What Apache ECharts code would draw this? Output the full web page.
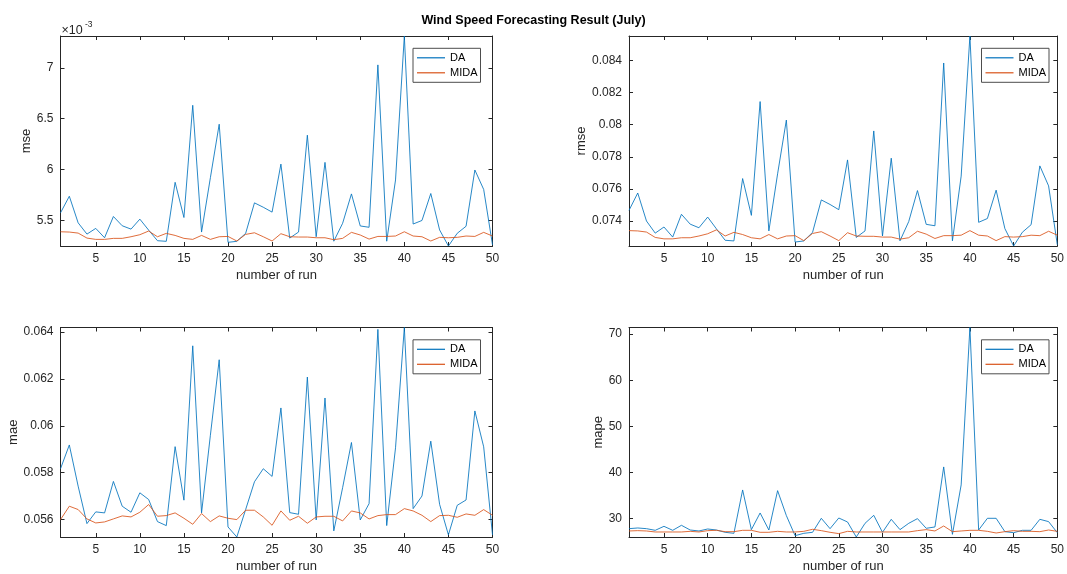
<!DOCTYPE html>
<html>
<head>
<meta charset="utf-8">
<title>Wind Speed Forecasting Result (July)</title>
<script src="https://cdn.jsdelivr.net/npm/echarts@6/dist/echarts.min.js"></script>
<style>
  html, body { margin: 0; padding: 0; background: #ffffff; }
  #chart { width: 1067px; height: 574px; }
</style>
</head>
<body>
<div id="chart"></div>
<script>
// Run index (x axis) and its tick marks
const runs = Array.from({ length: 50 }, (_, i) => i + 1);
const runTicks = [5, 10, 15, 20, 25, 30, 35, 40, 45, 50];

// Mean squared error per run
const mseDA = [
  0.005575, 0.005738, 0.005477, 0.005366, 0.005422, 0.005330, 0.005539, 0.005448, 0.005415, 0.005513,
  0.005405, 0.005301, 0.005295, 0.005875, 0.005529, 0.006632, 0.005386, 0.005920, 0.006446, 0.005285,
  0.005295, 0.005373, 0.005673, 0.005630, 0.005582, 0.006054, 0.005327, 0.005386, 0.006338, 0.005340,
  0.006071, 0.005296, 0.005472, 0.005761, 0.005446, 0.005433, 0.007029, 0.005296, 0.005898, 0.007313,
  0.005465, 0.005500, 0.005765, 0.005407, 0.005249, 0.005374, 0.005443, 0.005996, 0.005805, 0.005260
];
const mseMIDA = [
  0.005389, 0.005386, 0.005376, 0.005327, 0.005314, 0.005314, 0.005324, 0.005324, 0.005340, 0.005360,
  0.005396, 0.005340, 0.005373, 0.005353, 0.005324, 0.005314, 0.005353, 0.005314, 0.005340, 0.005343,
  0.005298, 0.005363, 0.005379, 0.005340, 0.005298, 0.005370, 0.005340, 0.005337, 0.005337, 0.005330,
  0.005330, 0.005311, 0.005324, 0.005383, 0.005357, 0.005317, 0.005343, 0.005343, 0.005347, 0.005389,
  0.005347, 0.005340, 0.005298, 0.005334, 0.005330, 0.005334, 0.005347, 0.005343, 0.005383, 0.005347
];
const mseTicks = [0.0055, 0.006, 0.0065, 0.007];

// Root mean squared error per run
const rmseDA = [
  0.074667, 0.075749, 0.074007, 0.073253, 0.073634, 0.073007, 0.074425, 0.073811, 0.073587, 0.074251,
  0.073520, 0.072808, 0.072767, 0.076648, 0.074358, 0.081438, 0.073390, 0.076942, 0.080287, 0.072698,
  0.072767, 0.073301, 0.075319, 0.075035, 0.074712, 0.077808, 0.072985, 0.073390, 0.079610, 0.073074,
  0.077915, 0.072773, 0.073972, 0.075901, 0.073799, 0.073710, 0.083838, 0.072773, 0.076800, 0.085517,
  0.073925, 0.074162, 0.075927, 0.073533, 0.072452, 0.073308, 0.073777, 0.077435, 0.076192, 0.072528
];
const rmseMIDA = [
  0.073409, 0.073390, 0.073320, 0.072985, 0.072897, 0.072897, 0.072966, 0.072966, 0.073074, 0.073213,
  0.073456, 0.073074, 0.073301, 0.073165, 0.072966, 0.072897, 0.073165, 0.072897, 0.073074, 0.073096,
  0.072786, 0.073232, 0.073342, 0.073074, 0.072786, 0.073279, 0.073074, 0.073055, 0.073055, 0.073007,
  0.073007, 0.072878, 0.072966, 0.073368, 0.073191, 0.072919, 0.073096, 0.073096, 0.073124, 0.073409,
  0.073124, 0.073074, 0.072786, 0.073036, 0.073007, 0.073036, 0.073124, 0.073096, 0.073368, 0.073124
];
const rmseTicks = [0.074, 0.076, 0.078, 0.08, 0.082, 0.084];

// Mean absolute error per run
const maeDA = [
  0.058171, 0.059186, 0.057429, 0.055829, 0.056329, 0.056286, 0.057629, 0.056571, 0.056314, 0.057143,
  0.056857, 0.055914, 0.055743, 0.059114, 0.056829, 0.063418, 0.056286, 0.059600, 0.062823, 0.055686,
  0.055257, 0.056429, 0.057614, 0.058171, 0.057843, 0.060766, 0.056298, 0.056227, 0.062085, 0.055986,
  0.061191, 0.055518, 0.057362, 0.059291, 0.055986, 0.056681, 0.064120, 0.055745, 0.059064, 0.064200,
  0.056468, 0.057007, 0.059348, 0.056652, 0.055348, 0.056610, 0.056837, 0.060638, 0.059106, 0.055348
];
const maeMIDA = [
  0.056000, 0.056571, 0.056429, 0.056029, 0.055857, 0.055900, 0.056029, 0.056157, 0.056114, 0.056314,
  0.056643, 0.056143, 0.056171, 0.056286, 0.056057, 0.055800, 0.056257, 0.055914, 0.056157, 0.056057,
  0.056000, 0.056400, 0.056400, 0.056114, 0.055757, 0.056371, 0.055972, 0.056142, 0.055844, 0.056113,
  0.056142, 0.056142, 0.055943, 0.056369, 0.056284, 0.056028, 0.056170, 0.056213, 0.056213, 0.056468,
  0.056369, 0.056184, 0.055915, 0.056170, 0.056184, 0.056099, 0.056241, 0.056184, 0.056426, 0.056184
];
const maeTicks = [0.056, 0.058, 0.06, 0.062, 0.064];

// Mean absolute percentage error per run
const mapeDA = [
  27.75, 27.90, 27.75, 27.39, 28.26, 27.39, 28.48, 27.46, 27.25, 27.68,
  27.46, 26.96, 26.74, 36.16, 27.54, 31.16, 27.46, 36.01, 30.60, 26.23,
  26.74, 26.96, 30.00, 27.75, 30.07, 29.20, 25.94, 28.91, 30.65, 26.96,
  29.78, 27.54, 28.91, 29.93, 27.83, 28.12, 41.16, 26.52, 37.25, 71.45,
  27.46, 30.00, 30.00, 27.10, 26.88, 27.39, 27.39, 29.78, 29.28, 26.88
];
const mapeMIDA = [
  27.25, 27.32, 27.25, 27.03, 27.03, 27.03, 27.03, 27.17, 27.03, 27.32,
  27.39, 27.10, 27.10, 27.39, 27.39, 26.96, 26.96, 27.17, 27.03, 27.03,
  27.17, 27.61, 27.32, 26.96, 26.67, 27.17, 27.03, 27.03, 27.03, 27.03,
  27.03, 27.03, 27.03, 27.32, 27.54, 27.25, 28.33, 27.10, 27.25, 27.39,
  27.39, 27.17, 26.81, 27.10, 27.32, 27.17, 27.17, 27.10, 27.46, 27.17
];
const mapeTicks = [30, 40, 50, 60, 70];

const seriesNames = ['DA', 'MIDA'];
const seriesColors = ['#0072BD', '#D95319'];

const FONT = "'Liberation Sans', Arial, Helvetica, sans-serif";
const INK = '#262626';

// Subplot layout: 2 x 2 axes boxes
const COLS = [60.5, 629];
const ROWS = [36, 327.5];
const BOX_W = 432;
const BOX_H = 210;

const panels = [
  { label: 'mse',  da: mseDA,  mida: mseMIDA,  ticks: mseTicks,  fmt: v => String(+(v * 1e3).toFixed(2)), col: 0, row: 0, nameGap: 27 },
  { label: 'rmse', da: rmseDA, mida: rmseMIDA, ticks: rmseTicks, fmt: v => String(+v.toFixed(3)),         col: 1, row: 0, nameGap: 40 },
  { label: 'mae',  da: maeDA,  mida: maeMIDA,  ticks: maeTicks,  fmt: v => String(+v.toFixed(3)),         col: 0, row: 1, nameGap: 40 },
  { label: 'mape', da: mapeDA, mida: mapeMIDA, ticks: mapeTicks, fmt: v => String(v),                     col: 1, row: 1, nameGap: 24 }
];

const grid = [], xAxis = [], yAxis = [], series = [], legend = [];

const tickStyle = { show: true, inside: true, length: 4, lineStyle: { color: INK, width: 1 } };
const lineStyle = { show: true, onZero: false, lineStyle: { color: INK, width: 1 } };

panels.forEach((p, i) => {
  const left = COLS[p.col], top = ROWS[p.row];
  const yMin = Math.min(...p.da, ...p.mida);
  const yMax = Math.max(...p.da, ...p.mida);

  grid.push({ left: left, top: top, width: BOX_W, height: BOX_H, containLabel: false });

  // bottom axis with labels, and a mirrored top axis for the box ticks
  xAxis.push({
    type: 'value', gridIndex: i, position: 'bottom', min: 1, max: 50,
    name: 'number of run', nameLocation: 'middle', nameGap: 23,
    nameTextStyle: { fontFamily: FONT, fontSize: 13, color: INK },
    axisLine: lineStyle,
    axisTick: Object.assign({ customValues: runTicks }, tickStyle),
    axisLabel: { customValues: runTicks, margin: 7, fontFamily: FONT, fontSize: 12, color: INK },
    splitLine: { show: false }
  });
  xAxis.push({
    type: 'value', gridIndex: i, position: 'top', min: 1, max: 50,
    axisLine: lineStyle,
    axisTick: Object.assign({ customValues: runTicks }, tickStyle),
    axisLabel: { show: false },
    splitLine: { show: false }
  });

  yAxis.push({
    type: 'value', gridIndex: i, position: 'left', min: yMin, max: yMax,
    name: p.label, nameLocation: 'middle', nameGap: p.nameGap, nameRotate: 90,
    nameTextStyle: { fontFamily: FONT, fontSize: 13, color: INK },
    axisLine: lineStyle,
    axisTick: Object.assign({ customValues: p.ticks }, tickStyle),
    axisLabel: { customValues: p.ticks, formatter: p.fmt, margin: 7, fontFamily: FONT, fontSize: 12, color: INK },
    splitLine: { show: false }
  });
  yAxis.push({
    type: 'value', gridIndex: i, position: 'right', min: yMin, max: yMax,
    axisLine: lineStyle,
    axisTick: Object.assign({ customValues: p.ticks }, tickStyle),
    axisLabel: { show: false },
    splitLine: { show: false }
  });

  [p.da, p.mida].forEach((vals, k) => {
    series.push({
      name: seriesNames[k], type: 'line',
      xAxisIndex: 2 * i, yAxisIndex: 2 * i,
      data: runs.map((r, j) => [r, vals[j]]),
      symbol: 'none', showSymbol: false,
      lineStyle: { color: seriesColors[k], width: 0.85 },
      itemStyle: { color: seriesColors[k] },
      clip: true, silent: true
    });
  });

  // boxed legend in the upper-right corner; a thin bar stands for each line
  legend.push({
    data: seriesNames,
    orient: 'vertical',
    left: left + BOX_W - 79.5, top: top + 12.3,
    icon: 'rect',
    itemWidth: 28, itemHeight: 1.2, itemGap: 1,
    padding: [2.5, 3, 2.5, 4],
    backgroundColor: '#ffffff',
    borderColor: '#4d4d4d', borderWidth: 1, borderRadius: 0,
    textStyle: { fontFamily: FONT, fontSize: 11, lineHeight: 14, color: '#000000' },
    selectedMode: false
  });
});

const chart = echarts.init(document.getElementById('chart'), null, { renderer: 'canvas' });
chart.setOption({
  animation: false,
  backgroundColor: '#ffffff',
  color: seriesColors,
  title: {
    text: 'Wind Speed Forecasting Result (July)',
    left: 'center', top: 9,
    textStyle: { fontFamily: FONT, fontSize: 12.5, fontWeight: 'bold', color: '#000000' }
  },
  grid: grid,
  xAxis: xAxis,
  yAxis: yAxis,
  legend: legend,
  series: series,
  graphic: [
    { type: 'text', left: 61.5, top: 24, style: { text: '×10', fontFamily: FONT, fontSize: 12.5, fill: INK } },
    { type: 'text', left: 85, top: 20.5, style: { text: '-3', fontFamily: FONT, fontSize: 8.5, fill: INK } }
  ]
});
</script>
</body>
</html>
